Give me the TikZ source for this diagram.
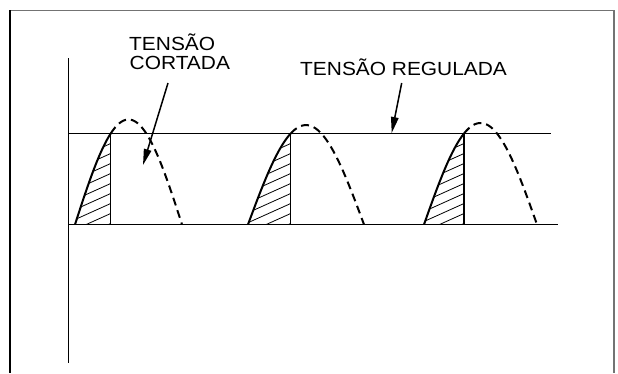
\documentclass[tikz,border=0pt]{standalone}
\usepackage{fontspec}
\setmainfont{Liberation Sans}[FakeStretch=1.1]
\usetikzlibrary{arrows.meta}
\begin{document}
\begin{tikzpicture}[x=1pt,y=-1pt,
  wave/.style={line width=2pt, line join=round},
  dashwave/.style={line width=2pt, dash pattern=on 8pt off 5pt},
  axisline/.style={line width=1.5pt},
  hatchline/.style={line width=0.8pt},
  lab/.style={font=\fontsize{19}{19}\selectfont, anchor=base west, inner sep=0pt},
  pointer/.style={line width=1.5pt, -{Triangle[length=16pt,width=7.5pt]}}]
\useasboundingbox (0,0) rectangle (618,373);
% frame
\draw[line width=1.8pt, black!55] (10,10.5) -- (614,10.5) -- (614,373);
\draw[line width=1.6pt] (10,10) -- (10,373);
% axes
\draw[axisline] (68.5,58) -- (68.5,363);
\draw[axisline] (68.5,133.5) -- (551,133.5);
\draw[axisline] (68.5,224.5) -- (558,224.5);
% pulses
\foreach \xs/\w/\xv in {75/107/110.7, 248/116/290.7, 424/113/464}{
  \pgfmathsetmacro\f{180/\w}
  \pgfmathsetmacro\H{91/sin(\f*(\xv-\xs))}
  \pgfmathsetmacro\xe{\xs+\w}
  \begin{scope}
    \clip plot[domain=\xs:\xv, samples=40] (\x, {224.5-\H*sin(\f*(\x-\xs))}) -- (\xv,224.5) -- cycle;
    \foreach \k in {-1,...,10}{
      \draw[hatchline] (\xv+5, 143.5+10*\k-0.45*5) -- (\xs-5, {143.5+10*\k+0.45*(\xv-\xs+5)});
    }
  \end{scope}
  \draw[wave] plot[domain=\xs:\xv, samples=40] (\x, {224.5-\H*sin(\f*(\x-\xs))});
  \draw[axisline] (\xv,133.5) -- (\xv,224.5);
  \draw[dashwave] plot[domain=\xv:\xe, samples=60] (\x, {224.5-\H*sin(\f*(\x-\xs))});
}
% labels
\node[lab] (t1) at (129,50) {TENSÃO};
\node[lab] (t2) at (129.5,69) {CORTADA};
\node[lab] (t3) at (300,75.7) {TENSÃO REGULADA};
\coordinate (a1s) at (168,83);
\coordinate (a1e) at (143,165);
\coordinate (a2s) at (401.7,83);
\coordinate (a2e) at (391.7,133);
\draw[pointer] (a1s) -- (a1e);
\draw[pointer] (a2s) -- (a2e);
\end{tikzpicture}
\end{document}
